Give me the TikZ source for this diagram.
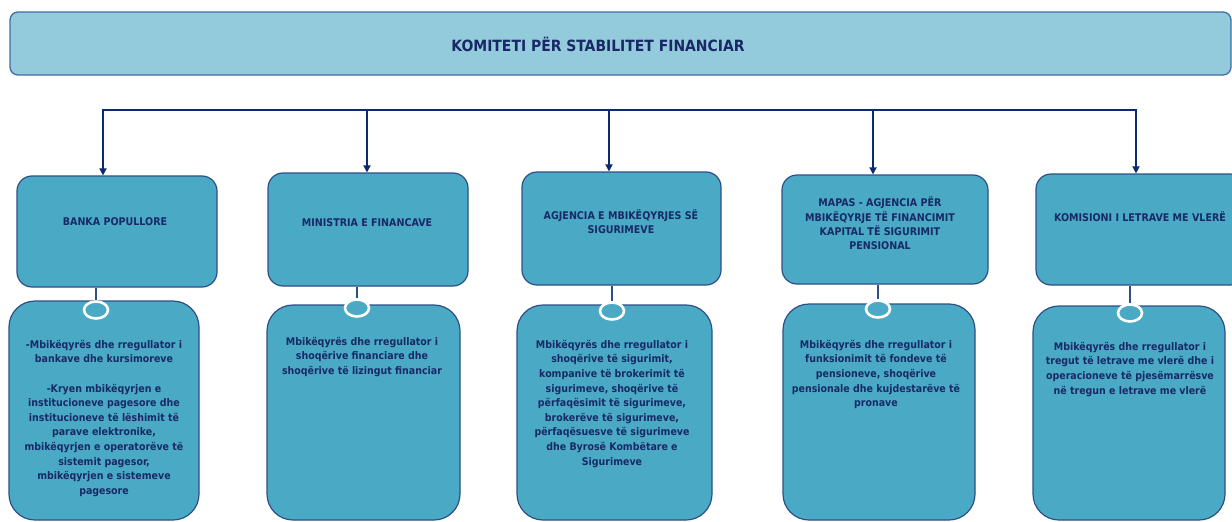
\documentclass[tikz,border=0pt]{standalone}
\usepackage{fontspec}
\setmainfont{DejaVu Sans Condensed}
\usetikzlibrary{arrows.meta,shapes.geometric}
\definecolor{barfill}{HTML}{93CBDC}
\definecolor{barline}{HTML}{3F6E9E}
\definecolor{boxfill}{HTML}{4AAAC5}
\definecolor{boxline}{HTML}{2D4F86}
\definecolor{txtnavy}{HTML}{182966}
\definecolor{connavy}{HTML}{0B2B6E}
\tikzset{
  headbar/.style={draw=barline, line width=1.3pt, fill=barfill, rounded corners=8pt,
    minimum width=1221pt, minimum height=63pt, inner sep=0pt},
  agency/.style={draw=boxline, line width=1.2pt, fill=boxfill, rounded corners=15pt, inner sep=0pt},
  duty/.style={draw=boxline, line width=1.2pt, fill=boxfill, rounded corners=26pt, inner sep=0pt},
  agencytext/.style={text=txtnavy, font=\fontsize{10.6}{14.3}\selectfont\bfseries,
    align=center, inner sep=0pt},
  dutytext/.style={text=txtnavy, font=\fontsize{10.5}{14.6}\selectfont\bfseries,
    align=center, inner sep=0pt, anchor=north},
  ring/.style={ellipse, draw=white, line width=2.6pt, fill=boxfill,
    minimum width=24pt, minimum height=17pt, inner sep=0pt},
  feed/.style={draw=connavy, line width=2.4pt, -{Triangle[width=7pt,length=7pt]}},
  tie/.style={draw=boxline, line width=1.3pt},
}
\begin{document}
\begin{tikzpicture}[x=1pt,y=-1pt]
\clip (0,0) rectangle (1232,522);
\fill[white] (0,0) rectangle (1232,522);

% committee header
\node[headbar] (ksf) at (620.5,43.5) {};
\node[text=txtnavy, font=\fontsize{15.5}{18}\selectfont\bfseries] (ksftext) at (598,44)
  {KOMITETI PËR STABILITET FINANCIAR};

% member institutions
\node[agency, minimum width=200pt, minimum height=111pt] (bp) at (117,231.5) {};
\node[agency, minimum width=200pt, minimum height=113pt] (mf) at (368,229.5) {};
\node[agency, minimum width=199pt, minimum height=113pt] (ams) at (621.5,228.5) {};
\node[agency, minimum width=206pt, minimum height=109pt] (mapas) at (885,229.5) {};
\node[agency, minimum width=209pt, minimum height=111pt] (klv) at (1140.5,229.5) {};

\node[agencytext] (bpt) at (115,222) {BANKA POPULLORE};
\node[agencytext] (mft) at (367,223) {MINISTRIA E FINANCAVE};
\node[agencytext] (amst) at (621,222) {AGJENCIA E MBIKËQYRJES SË\\SIGURIMEVE};
\node[agencytext] (mapast) at (880,223.5) {MAPAS - AGJENCIA PËR\\MBIKËQYRJE TË FINANCIMIT\\KAPITAL TË SIGURIMIT\\PENSIONAL};
\node[agencytext] (klvt) at (1140,217) {KOMISIONI I LETRAVE ME VLERË};

% distribution line with arrows
\coordinate (hl) at (103,110);
\coordinate (hr) at (1136,110);
\draw[connavy, line width=2.4pt, line cap=rect] (hl) -- (hr);
\draw[feed] (hl) -- (bp.north -| hl);
\draw[feed] (367,110) -- (mf.north -| 367,0);
\draw[feed] (609,110) -- (ams.north -| 609,0);
\draw[feed] (873,110) -- (mapas.north -| 873,0);
\draw[feed] (hr) -- (klv.north -| hr);

% responsibilities
\node[duty, minimum width=190pt, minimum height=219pt] (bpd) at (104,410.5) {};
\node[duty, minimum width=193pt, minimum height=215pt] (mfd) at (363.5,412.5) {};
\node[duty, minimum width=195pt, minimum height=215pt] (amsd) at (614.5,412.5) {};
\node[duty, minimum width=192pt, minimum height=216pt] (mapasd) at (879,412) {};
\node[duty, minimum width=192pt, minimum height=214pt] (klvd) at (1129,413) {};

% links with rings
\node[ring] (r1) at (96,310) {};
\node[ring] (r2) at (357,308) {};
\node[ring] (r3) at (612,311) {};
\node[ring] (r4) at (878,309) {};
\node[ring] (r5) at (1130,313) {};
\draw[tie] (bp.south -| r1) -- (r1.north);
\draw[tie] (mf.south -| r2) -- (r2.north);
\draw[tie] (ams.south -| r3) -- (r3.north);
\draw[tie] (mapas.south -| r4) -- (r4.north);
\draw[tie] (klv.south -| r5) -- (r5.north);

\node[dutytext] (bpdt) at (104,340) {-Mbikëqyrës dhe rregullator i\\bankave dhe kursimoreve\\[14.6pt]-Kryen mbikëqyrjen e\\institucioneve pagesore dhe\\institucioneve të lëshimit të\\parave elektronike,\\mbikëqyrjen e operatorëve të\\sistemit pagesor,\\mbikëqyrjen e sistemeve\\pagesore};
\node[dutytext] (mfdt) at (362,337) {Mbikëqyrës dhe rregullator i\\shoqërive financiare dhe\\shoqërive të lizingut financiar};
\node[dutytext] (amsdt) at (612,340) {Mbikëqyrës dhe rregullator i\\shoqërive të sigurimit,\\kompanive të brokerimit të\\sigurimeve, shoqërive të\\përfaqësimit të sigurimeve,\\brokerëve të sigurimeve,\\përfaqësuesve të sigurimeve\\dhe Byrosë Kombëtare e\\Sigurimeve};
\node[dutytext] (mapasdt) at (876,340) {Mbikëqyrës dhe rregullator i\\funksionimit të fondeve të\\pensioneve, shoqërive\\pensionale dhe kujdestarëve të\\pronave};
\node[dutytext] (klvdt) at (1130,342) {Mbikëqyrës dhe rregullator i\\tregut të letrave me vlerë dhe i\\operacioneve të pjesëmarrësve\\në tregun e letrave me vlerë};
\end{tikzpicture}
\end{document}
